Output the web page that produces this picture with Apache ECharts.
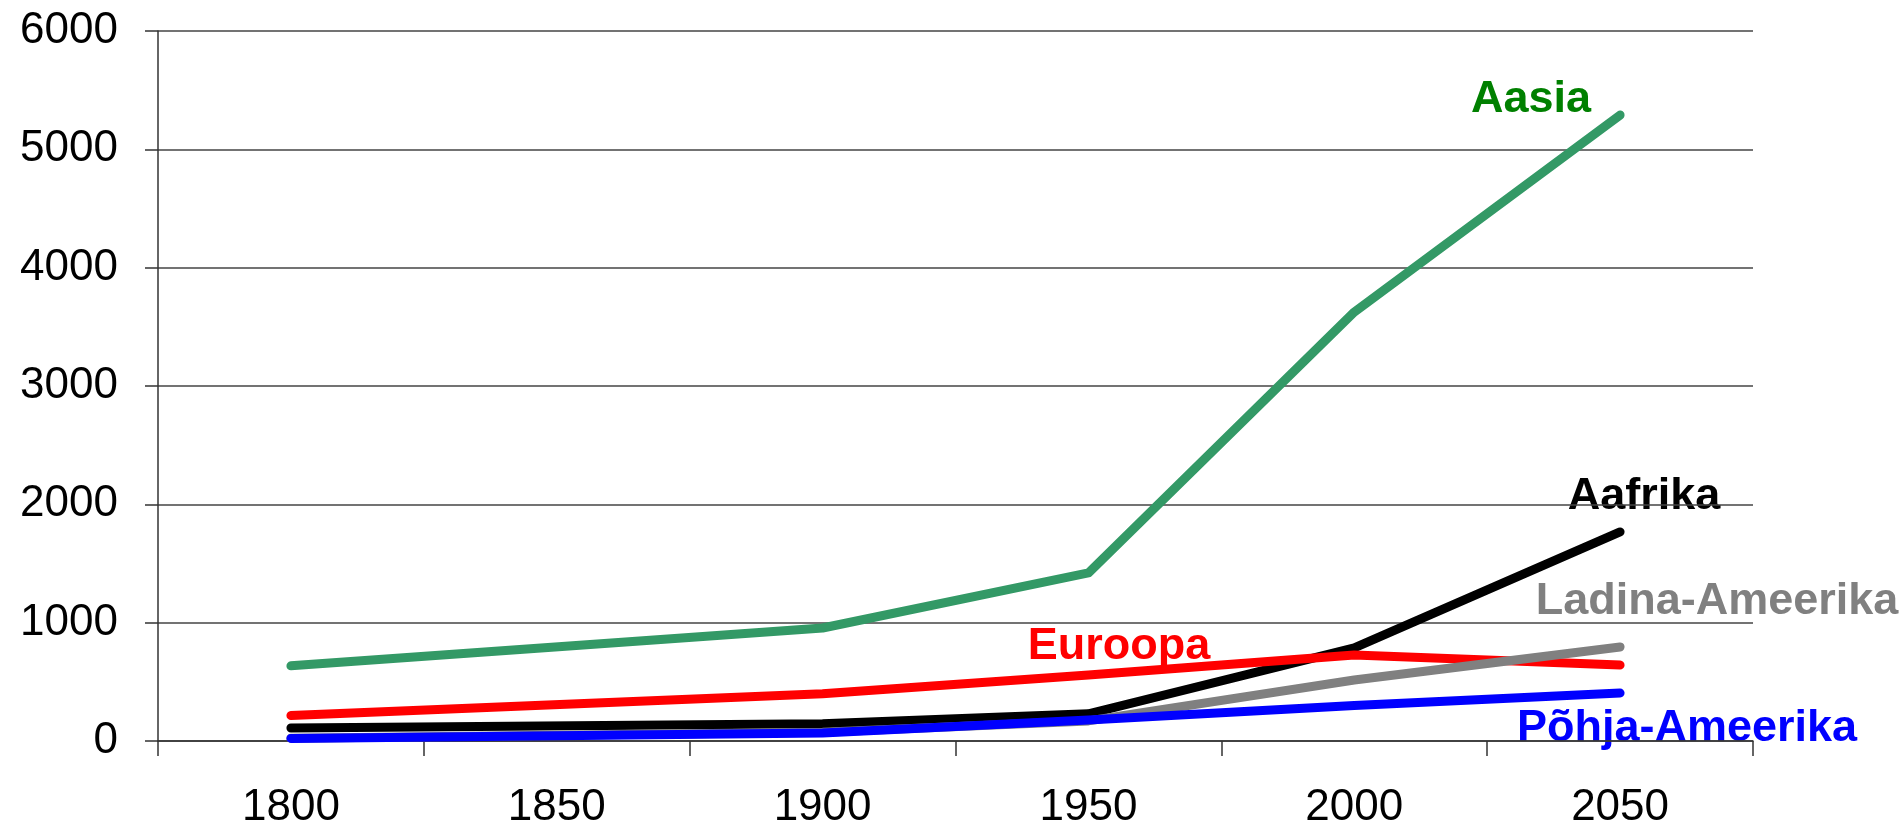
<!DOCTYPE html>
<html>
<head>
<meta charset="utf-8">
<script src="https://cdn.jsdelivr.net/npm/echarts@6/dist/echarts.min.js"></script>
<style>
html, body { margin:0; padding:0; background:#fff; }
#container { width:1903px; height:830px; }
</style>
</head>
<body>
<div id="container"></div>
<script type="text/javascript">
	var years = ['1800', '1850', '1900', '1950', '2000', '2050'];
	var aasia = [635, null, 955, 1420, 3625, 5290];
	var euroopa = [215, null, 400, 558, 727, 642];
	var aafrika = [110, null, 145, 230, 786, 1767];
	var ladinaAmeerika = [24, null, 74, 170, 515, 795];
	var pohjaAmeerika = [22, null, 68, 177, 300, 406];

	function lineSeries(name, data, color) {
		return {
			name: name,
			type: 'line',
			data: data,
			connectNulls: true,
			symbol: 'none',
			silent: true,
			lineStyle: { color: color, width: 9, cap: 'round', join: 'round' }
		};
	}

	var labelFont = 'bold 45px "Liberation Sans", Arial, sans-serif';
	function tag(text, x, y, color) {
		return {
			type: 'text', x: x, y: y,
			style: { text: text, fill: color, font: labelFont, align: 'center', verticalAlign: 'middle' }
		};
	}

	var myChart = echarts.init(document.getElementById('container'));
	var option = {
		animation: false,
		grid: { left: 158, top: 31, right: 150, bottom: 89 },
		xAxis: {
			type: 'category',
			boundaryGap: true,
			data: years,
			axisLine: { show: true, lineStyle: { color: '#333', width: 1.5 } },
			axisTick: { show: true, length: 15, lineStyle: { color: '#333', width: 1.5 } },
			axisLabel: { color: '#000', fontSize: 44, fontFamily: '"Liberation Sans", Arial', margin: 45 },
			splitLine: { show: false }
		},
		yAxis: {
			type: 'value',
			min: 0,
			max: 6000,
			interval: 1000,
			axisLine: { show: true, lineStyle: { color: '#333', width: 1.5 } },
			axisTick: { show: true, length: 13, lineStyle: { color: '#333', width: 1.5 } },
			axisLabel: {
				color: '#000', fontSize: 44, fontFamily: '"Liberation Sans", Arial', margin: 40,
				formatter: function (v) { return String(v); }
			},
			splitLine: { show: true, lineStyle: { color: '#444', width: 1.5 } }
		},
		series: [
			lineSeries('Aasia', aasia, '#339966'),
			lineSeries('Aafrika', aafrika, '#000000'),
			lineSeries('Euroopa', euroopa, '#ff0000'),
			lineSeries('Ladina-Ameerika', ladinaAmeerika, '#808080'),
			lineSeries('Põhja-Ameerika', pohjaAmeerika, '#0000ff')
		],
		graphic: [
			tag('Aasia', 1531, 100, '#008000'),
			tag('Aafrika', 1644, 497, '#000000'),
			tag('Ladina-Ameerika', 1717, 602, '#808080'),
			tag('Euroopa', 1119, 647, '#ff0000'),
			tag('Põhja-Ameerika', 1687, 729, '#0000ff')
		]
	};
	myChart.setOption(option);
</script>
</body>
</html>
